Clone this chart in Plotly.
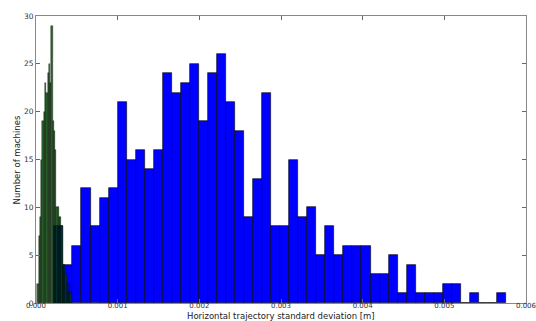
import numpy as np
import plotly.graph_objects as go

# Histogram counts per bin (number of machines)
blue_counts = [8, 4, 6, 12, 8, 11, 12, 21, 15, 16,
               14, 16, 24, 22, 23, 25, 19, 24, 26, 21,
               18, 9, 13, 22, 8, 8, 15, 9, 10, 5,
               8, 5, 6, 6, 6, 3, 3, 5, 1, 4,
               1, 1, 1, 2, 2, 0, 1, 0, 0, 1]
blue_bin_start = 0.000225   # [m]
blue_bin_width = 0.0001106  # [m]

green_counts = [2, 7, 9, 15, 19, 20, 23, 22, 24, 25,
                23, 29, 19, 18, 16, 10, 10, 9, 9, 8,
                4, 4, 3, 2, 1, 2, 1]
green_bin_start = 0.0000171
green_bin_width = 0.0000155

x_ticks = [0.000, 0.001, 0.002, 0.003, 0.004, 0.005, 0.006]
y_ticks = [0, 5, 10, 15, 20, 25, 30]


def centers(start, width, n):
    edges = start + width * np.arange(n + 1)
    return (edges[:-1] + edges[1:]) / 2


fig = go.Figure()
fig.add_trace(go.Bar(
    x=centers(blue_bin_start, blue_bin_width, len(blue_counts)),
    y=blue_counts,
    width=blue_bin_width,
    marker=dict(color="#0000ff", line=dict(color="rgba(0,0,0,0.85)", width=0.7)),
    showlegend=False,
))
fig.add_trace(go.Bar(
    x=centers(green_bin_start, green_bin_width, len(green_counts)),
    y=green_counts,
    width=green_bin_width,
    marker=dict(color="rgba(0,70,0,0.82)", line=dict(color="rgba(0,0,0,0.7)", width=0.5)),
    showlegend=False,
))

x_tick_font = dict(family="DejaVu Sans", size=7, color="#333")
y_tick_font = dict(family="DejaVu Sans", size=7.5, color="#333")
title_font = dict(family="DejaVu Sans", size=8.5, color="#222")
fig.update_layout(
    width=536, height=321,
    margin=dict(l=36, r=10, t=16, b=18),
    barmode="overlay", bargap=0,
    plot_bgcolor="white", paper_bgcolor="white",
    font=dict(family="DejaVu Sans", color="#222"),
    xaxis=dict(
        range=[-1e-9, 0.006 + 1e-9], tickvals=x_ticks,
        ticktext=[f"{v:.3f}" for v in x_ticks],
        ticks="inside", ticklen=4, tickcolor="#666",
        showline=True, linecolor="#888", linewidth=1, mirror="ticks",
        showgrid=False, zeroline=False, tickfont=x_tick_font,
        ticklabelstandoff=-4, ticklabeloverflow="allow",
        automargin=False,
    ),
    yaxis=dict(
        range=[0, 30], tickvals=y_ticks,
        ticks="inside", ticklen=4, tickcolor="#666",
        showline=True, linecolor="#888", linewidth=1, mirror="ticks",
        showgrid=False, zeroline=False, tickfont=y_tick_font,
        automargin=False,
    ),
    annotations=[
        dict(text="Horizontal trajectory standard deviation [m]",
             xref="paper", yref="paper", x=0.5, y=-0.047,
             xanchor="center", yanchor="middle", showarrow=False, font=title_font),
        dict(text="Number of machines", textangle=-90,
             xref="paper", yref="paper", x=-0.039, y=0.5,
             xanchor="center", yanchor="middle", showarrow=False, font=title_font),
    ],
)

fig.write_html("out.html")
